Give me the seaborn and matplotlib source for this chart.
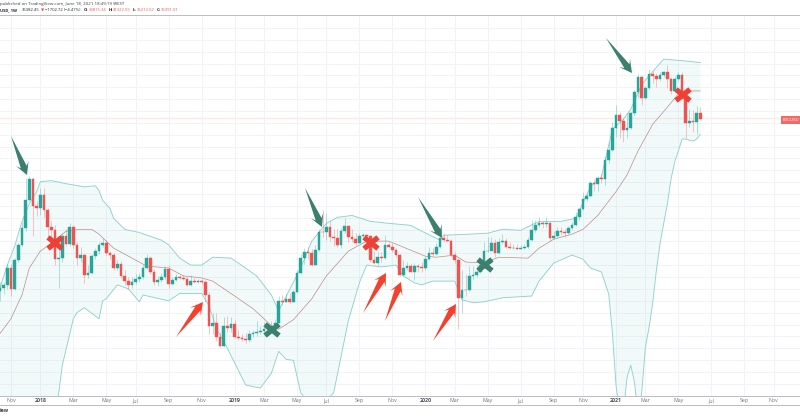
import numpy as np
import pandas as pd
import matplotlib
matplotlib.use('Agg')
import matplotlib.pyplot as plt
from matplotlib.lines import Line2D
from matplotlib.patches import Polygon
import seaborn as sns

# ------------------------------------------------------------
# data: weekly BTCUSD, first candle Oct 16 2017
# ------------------------------------------------------------
first_open = 5600
closes = [5790, 5980, 7180, 5730, 7830, 9190, 11040, 15000, 18890, 14000, 13690, 15900,
          13400, 11160, 10800, 7900, 7990, 10130, 9330, 11160, 9230, 7990, 8260, 6650,
          6790, 8160, 8620, 9190, 9390, 8430, 8260, 7180, 7490, 6590, 6230, 5980,
          6170, 6380, 6520, 7180, 7990, 6880, 6170, 6300, 6520, 7100, 6040, 6300,
          6520, 6450, 6380, 5980, 6230, 6170, 6230, 6170, 5360, 3810, 3970, 3385,
          3070, 3810, 3730, 3930, 3385, 3350, 3330, 3280, 3500, 3540, 3580, 3620,
          3690, 3730, 3810, 3970, 5040, 4980, 5120, 4980, 5510, 6790, 7990, 8520,
          8430, 7410, 8710, 10600, 10550, 11160, 10020, 9920, 9230, 10700, 11280, 10020,
          9810, 9420, 10130, 10240, 10130, 7830, 7570, 8070, 7990, 9230, 9000, 8720,
          8260, 6650, 7180, 7330, 6880, 7330, 7250, 7180, 7900, 8430, 8340, 8990,
          9920, 9710, 9660, 8260, 7830, 5200, 5670, 5650, 6590, 6650, 6880, 7410,
          8620, 8640, 9390, 8430, 9500, 9600, 9000, 8900, 8900, 8860, 8900, 8990,
          9710, 10800, 11400, 11650, 11520, 11650, 9920, 10130, 10700, 10550, 10500, 11040,
          11400, 12430, 13550, 15130, 15630, 17990, 17800, 19100, 18800, 23200, 25870, 32650,
          37600, 35200, 32000, 32650, 38400, 48300, 57000, 45200, 50700, 58600, 57400, 55900,
          58100, 59900, 55900, 48900, 55900, 58100, 48900, 34500, 35200, 35000, 38300, 36000]
highs = [6170, 6200, 7500, 7500, 8000, 9400, 11800, 19100, 19500, 19200, 14800, 17000,
         17000, 13800, 12000, 11500, 8900, 10500, 11000, 11700, 11500, 9500, 9000, 8400,
         7400, 8400, 8900, 9500, 9950, 9750, 8650, 8450, 7800, 7750, 7000, 6500,
         6500, 6700, 6800, 7400, 8320, 8200, 7100, 6600, 6800, 7300, 7450, 6500,
         6750, 6680, 6650, 6500, 6650, 6450, 6400, 6380, 6300, 5550, 4400, 4400,
         3580, 4200, 4250, 4200, 4100, 3650, 3500, 3550, 3680, 3650, 4040, 3850,
         4000, 3950, 4050, 4150, 5300, 5350, 5400, 5450, 5650, 7000, 8350, 8950,
         9000, 8800, 9200, 11000, 13500, 13000, 12000, 11000, 10900, 11100, 12300, 11500,
         10900, 10500, 10500, 10500, 10400, 10300, 8600, 8550, 8500, 10300, 9500, 9450,
         8900, 8400, 7800, 7700, 7550, 7600, 7500, 7680, 8200, 9000, 8900, 9400,
         10100, 10500, 10300, 9800, 8500, 8000, 7000, 6700, 7300, 7300, 7400, 7800,
         9500, 10000, 10000, 9800, 9950, 10400, 9950, 9500, 9350, 9300, 9250, 9350,
         10000, 12100, 12100, 12500, 12000, 12450, 11800, 10700, 11200, 11200, 11000, 11350,
         11800, 13200, 13800, 16300, 16200, 18500, 18900, 19500, 19900, 24200, 28200, 35000,
         41900, 39000, 36600, 38500, 39000, 49500, 58800, 58000, 51800, 61800, 61000, 59300,
         60000, 61000, 64800, 57000, 57500, 60000, 59900, 50500, 40000, 39800, 41400, 41300]
lows = [5000, 5400, 5700, 5300, 5650, 7700, 9090, 10700, 14800, 10130, 12600, 12700,
        12500, 10000, 9900, 7400, 5800, 7700, 9100, 9100, 8900, 7400, 7700, 6100,
        6450, 6700, 7900, 8400, 9000, 8300, 7900, 7050, 7000, 6450, 5950, 5750,
        5800, 6050, 6200, 6400, 7100, 6750, 5950, 5900, 6150, 6400, 5800, 5950,
        6250, 6350, 6300, 5900, 5900, 6100, 6100, 6050, 4950, 3500, 3500, 3250,
        3050, 3050, 3600, 3600, 3350, 3300, 3250, 3200, 3230, 3400, 3420, 3500,
        3550, 3650, 3680, 3750, 3950, 4800, 4950, 4900, 4950, 5450, 6700, 7500,
        7900, 7300, 7400, 8600, 10050, 9700, 9600, 9100, 9050, 8900, 10500, 9500,
        9500, 9250, 9400, 9900, 9950, 7700, 7500, 7450, 7650, 7900, 8950, 8550,
        8050, 6600, 6550, 7050, 6850, 6300, 6900, 6850, 7050, 7850, 8200, 8250,
        8950, 9500, 9500, 8100, 7600, 3700, 4400, 5300, 5600, 6350, 6500, 6800,
        7350, 8500, 8700, 8100, 8350, 9300, 8900, 8850, 8800, 8750, 8800, 8850,
        8950, 9650, 10600, 11200, 11100, 11200, 9600, 9850, 10050, 10300, 10100, 10400,
        10950, 11300, 12100, 13400, 14900, 15500, 16500, 16500, 18100, 17700, 22500, 25500,
        29800, 29500, 28200, 29500, 32300, 37500, 46000, 42200, 44800, 50000, 53300, 50800,
        54300, 57000, 50400, 47300, 48600, 54500, 44800, 29500, 33000, 31200, 30800, 35500]

upper_wk = [0, 2, 4, 6, 8, 10, 11, 14, 18, 23, 26, 27, 28, 30, 31, 34, 38, 44, 46, 49, 52, 55,
            58, 63, 65, 70, 74, 76, 82, 85, 89, 92, 96, 101, 106, 112, 115, 120, 121, 128,
            133, 137, 142, 147, 153, 157, 161, 164, 167, 170, 172, 175, 178, 181, 186, 191]
upper = [5790, 7410, 9090, 11900, 14420, 16430, 18290, 18500, 17900, 17300, 17500, 16600, 14950,
         13690, 12290, 10920, 10550, 9710, 9230, 7990, 7410, 7410, 8070, 7990, 7575, 6590,
         5360, 4520, 7180, 9600, 11650, 12430, 12690, 11900, 11650, 11400, 10700, 9710,
         10240, 10360, 10470, 10920, 10800, 11900, 11900, 12290, 17300, 19300, 32300, 36000,
         40100, 52400, 60300, 69000, 67900, 66500]
lower_wk = [0, 15, 16, 17, 20, 21, 23, 27, 28, 29, 32, 35, 38, 39, 46, 49, 55, 57, 59, 62, 67,
            71, 74, 76, 78, 80, 82, 86, 91, 95, 98, 100, 104, 108, 110, 113, 115, 118, 124,
            126, 129, 132, 137, 145, 147, 151, 156, 159, 161, 164, 166, 167, 168, 169, 170,
            171, 172, 173, 174, 175, 176, 177, 178, 179, 180, 181, 182, 183, 184, 185, 186,
            187, 188, 189, 190, 191]
lower = [1000, 1300, 1850, 2505, 4145, 4430, 4670, 4145, 5030, 5150, 5980, 5730, 4980, 5360,
         5030, 5450, 5450, 4770, 3730, 3010, 2020, 1955, 2295, 2910, 2670, 2640, 1860, 1500,
         1860, 4060, 6115, 7410, 7260, 7410, 6590, 6115, 5980, 6230, 6230, 5090, 4930, 4980,
         5200, 5300, 6230, 7575, 8260, 7900, 7180, 6880, 5420, 3570, 2000, 1500, 1500, 2200,
         2505, 2090, 1500, 1860, 3040, 3770, 4930, 7000, 9390, 11650, 14420, 18890, 22670,
         25550, 29040, 29040, 28700, 28400, 29040, 30600]
basis_wk = [0, 3, 5, 6, 8, 11, 14, 18, 22, 25, 27, 31, 36, 40, 46, 50, 55, 58, 64, 69, 74, 76, 80,
            85, 89, 95, 100, 106, 110, 116, 119, 124, 127, 132, 136, 144, 147, 151, 156, 159,
            163, 168, 171, 174, 178, 182, 185, 188, 191]
basis = [3530, 4145, 4930, 5360, 7180, 8620, 9390, 10700, 10920, 10920, 10360, 8900, 7990, 7330,
         7180, 6590, 6450, 6230, 5300, 4620, 3850, 3700, 4100, 5140, 6590, 8620, 9610, 9610,
         9000, 8160, 8070, 8260, 7660, 7575, 8070, 7990, 8900, 9810, 10360, 10920, 12690,
         16430, 19680, 25550, 34100, 41000, 47400, 48900, 48900]

tick_wk = [3, 11, 20, 29, 37, 46, 55, 64, 72, 81, 89, 98, 107, 116, 124, 133, 142, 151, 159,
           168, 176, 185, 194, 203, 211]
tick_labels = ['Nov', '2018', 'Mar', 'May', 'Jul', 'Sep', 'Nov', '2019', 'Mar', 'May', 'Jul',
               'Sep', 'Nov', '2020', 'Mar', 'May', 'Jul', 'Sep', 'Nov', '2021', 'Mar', 'May',
               'Jul', 'Sep', 'Nov']
last_price = 36391.01

# ------------------------------------------------------------
# colours, pixel helpers
# ------------------------------------------------------------
W, H = 800, 418
UP, DOWN = '#26a69a', '#ef5350'
BAND, MID = '#8fd2cb', '#b98f8b'
ARROW_G, ARROW_R = '#3b806c', '#f4412f'
GRID = '#f1f3f8'

sns.set_style('white')
plt.rcParams['font.family'] = ['Open Sans', 'DejaVu Sans']


def fx(x):
    return x / W


def fy(y):
    return 1 - y / H


df = pd.DataFrame({'close': closes, 'high': highs, 'low': lows})
df['open'] = [first_open] + closes[:-1]
df['wk'] = np.arange(len(df))
df['up'] = df['close'] >= df['open']

fig = plt.figure(figsize=(W / 100, H / 100), dpi=100, facecolor='white')
ax = fig.add_axes([0, fy(395.7), 1, (395.7 - 15) / H])

ax.set_yscale('log')
ax.set_xlim(0, W / 3.667)
ax.set_ylim(36391 * np.exp((119 - 395.7) / 93), 36391 * np.exp((119 - 15) / 93))

# grille
ax.set_yticks(np.geomspace(96800, 1800, 32))
ax.set_yticks([], minor=True)
ax.set_yticklabels([])
ax.set_xticks(tick_wk)
ax.set_xticklabels(tick_labels, fontsize=3.8, color='#6f7380')
for lab, txt in zip(ax.get_xticklabels(), tick_labels):
    if txt.isdigit():
        lab.set_fontweight('bold')
        lab.set_color('#4a4e5a')
ax.tick_params(axis='both', length=0, pad=1.6)
ax.grid(True, color=GRID, linewidth=0.7)
ax.set_axisbelow(True)
for side in ['left', 'right']:
    ax.spines[side].set_visible(False)
for side in ['top', 'bottom']:
    ax.spines[side].set_color('#b9bcc4')
    ax.spines[side].set_linewidth(0.7)

ax.axhline(last_price, color='#fdeae7', linewidth=1.0, zorder=1)

# bandes
ax.fill(np.r_[upper_wk, lower_wk[::-1]], np.r_[upper, lower[::-1]],
        color=UP, alpha=0.06, linewidth=0, zorder=1.5)
sns.lineplot(x=upper_wk, y=upper, ax=ax, color=BAND, linewidth=0.65, estimator=None, zorder=2)
sns.lineplot(x=lower_wk, y=lower, ax=ax, color=BAND, linewidth=0.65, estimator=None, zorder=2)
sns.lineplot(x=basis_wk, y=basis, ax=ax, color=MID, linewidth=0.5, estimator=None, zorder=2)

# bougies
for is_up, color in [(True, UP), (False, DOWN)]:
    d = df[df['up'] == is_up]
    ax.vlines(d['wk'], d['low'], d['high'], color=color, linewidth=0.55, alpha=0.42, zorder=3)
    ax.bar(d['wk'], (d['close'] - d['open']).abs(), bottom=d[['open', 'close']].min(axis=1),
           width=0.72, color=color, edgecolor=color, linewidth=0.3, zorder=4)


# annotations posées à la main, en pixels de l'image
def arrow(tail, tip, color):
    tail, tip = np.array(tail, float), np.array(tip, float)
    d = tip - tail
    L = np.hypot(*d)
    u = d / L
    n = np.array([-u[1], u[0]])
    neck = tip - u * 8.5
    back = tip - u * 12.5
    pts = [tail, neck + n * 3.2, back + n * 6.8, tip, back - n * 6.8, neck - n * 3.2]
    pts = [(fx(p[0]), fy(p[1])) for p in pts]
    fig.add_artist(Polygon(pts, closed=True, transform=fig.transFigure,
                           facecolor=color, edgecolor='none', zorder=6))


def cross(x, y, color, s=7.0):
    for sign in (1, -1):
        fig.add_artist(Line2D([fx(x - s), fx(x + s)], [fy(y - sign * s * 0.8), fy(y + sign * s * 0.8)],
                              transform=fig.transFigure, color=color, linewidth=3.8,
                              solid_capstyle='butt', zorder=6))


for tail, tip in [((11, 136), (27, 175)), ((305, 188), (322, 227)),
                  ((418, 197), (442, 238)), ((606, 38), (632, 73))]:
    arrow(tail, tip, ARROW_G)
for tail, tip in [((176, 337), (203, 302)), ((363, 313), (386, 273)),
                  ((385, 321), (401, 282)), ((433, 341), (456, 304))]:
    arrow(tail, tip, ARROW_R)
for x, y in [(55, 243), (371, 243), (683, 95)]:
    cross(x, y, '#ee4035')
for x, y in [(272, 330), (485, 265)]:
    cross(x, y, ARROW_G)

# textes de l'entête
fig.text(fx(0), fy(4.5), 'published on TradingView.com, June 18, 2021 18:49:19 WEST',
         fontsize=3.2, color='#3a3d46', va='center')
hdr = [(0, 'USD, 1W', '#202330', 'bold'), (22, '36382.45', '#202330', 'normal'),
       (40.5, '▼', DOWN, 'normal'), (45, '−1702.72 (−4.47%)', '#202330', 'normal'),
       (84, 'O:', '#202330', 'bold'), (89, '39815.34', DOWN, 'normal'),
       (109, 'H:', '#202330', 'bold'), (113, '41322.55', DOWN, 'normal'),
       (133, 'L:', '#202330', 'bold'), (137, '36213.52', DOWN, 'normal'),
       (157, 'C:', '#202330', 'bold'), (161, '36391.01', DOWN, 'normal')]
for x, txt, col, wt in hdr:
    fig.text(fx(x), fy(10), txt, fontsize=3.0, color=col, fontweight=wt, va='center')

# étiquette du dernier prix
fig.text(fx(791), fy(120), 'BTCUSD', fontsize=3.2, color='white', ha='center', va='center', zorder=7,
         bbox=dict(boxstyle='square,pad=0.35', facecolor='#f26a66', edgecolor='none'))

# bas de page
fig.add_artist(Line2D([0, 1], [fy(405), fy(405)], transform=fig.transFigure,
                      color='#b9bcc4', linewidth=0.7))
fig.text(fx(0), fy(411), 'iew', fontsize=3.8, color='#3a3d46', fontweight='bold', va='center')

fig.savefig('out.png', dpi=100)
plt.close(fig)
